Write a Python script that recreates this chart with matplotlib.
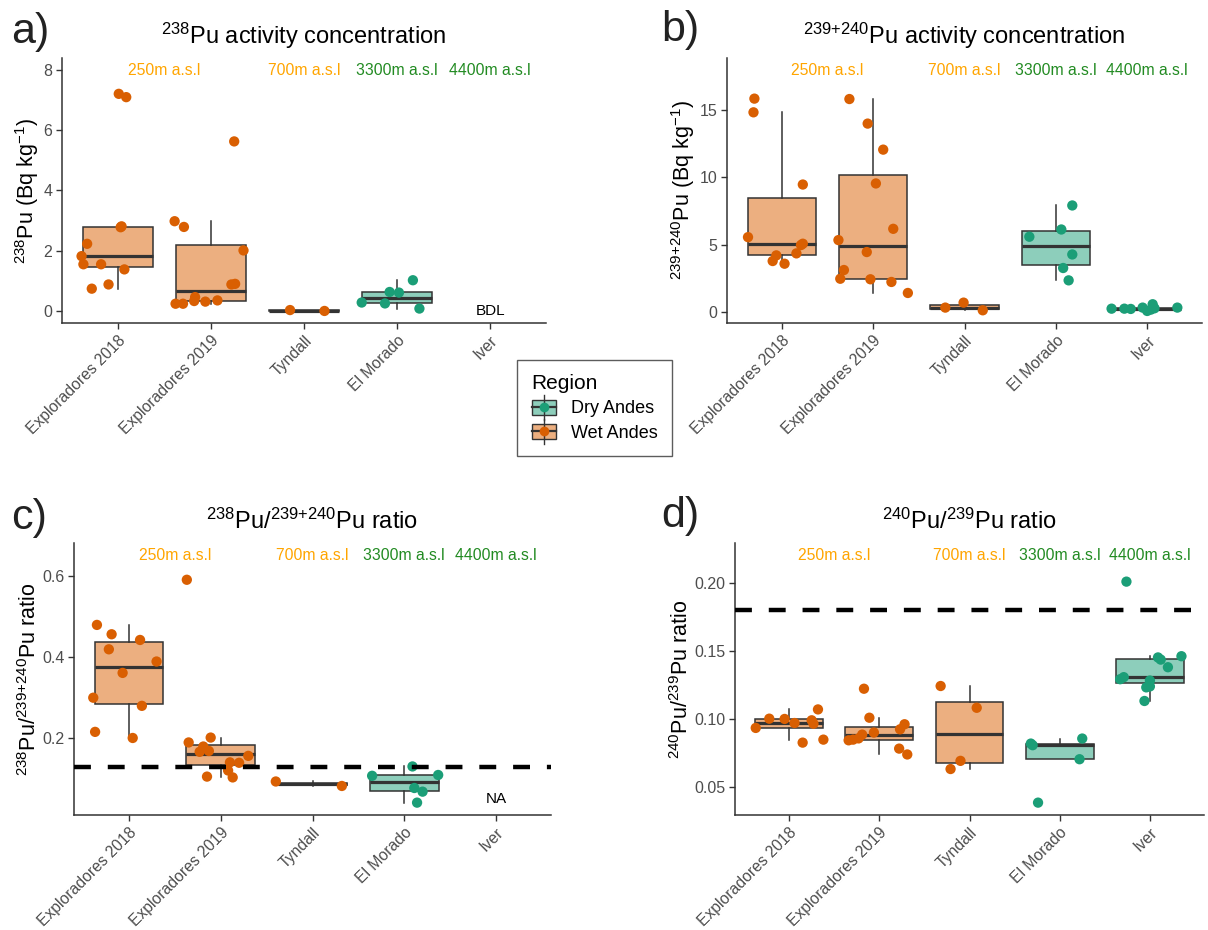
import matplotlib
matplotlib.use("Agg")
import matplotlib.pyplot as plt
from matplotlib.legend_handler import HandlerBase
from matplotlib.patches import Rectangle
from matplotlib.lines import Line2D
import numpy as np

plt.rcParams['font.family'] = ['Liberation Sans', 'DejaVu Sans']
plt.rcParams['mathtext.fontset'] = 'custom'
plt.rcParams['mathtext.rm'] = 'Liberation Sans'
plt.rcParams['mathtext.it'] = 'Liberation Sans:italic'
plt.rcParams['mathtext.bf'] = 'Liberation Sans:bold'

# ---------------- data ----------------
categories = ["Exploradores 2018", "Exploradores 2019", "Tyndall", "El Morado", "Iver"]
regions = ["Wet Andes", "Wet Andes", "Wet Andes", "Dry Andes", "Dry Andes"]

# a) 238Pu activity (Bq/kg)
pu238 = [
    [7.21, 7.10, 2.81, 2.78, 2.23, 1.82, 1.55, 1.55, 1.38, 0.88, 0.74],
    [2.98, 2.79, 5.63, 2.01, 0.88, 0.90, 0.24, 0.24, 0.33, 0.46, 0.31, 0.35],
    [0.03, 0.00],
    [0.28, 0.25, 0.63, 0.61, 1.02, 0.08],
    [],
]
pu238_jit = [
    [0.01, 0.09, 0.04, 0.03, -0.33, -0.39, -0.37, -0.18, 0.07, -0.10, -0.28],
    [-0.39, -0.29, 0.25, 0.35, 0.22, 0.26, -0.38, -0.30, -0.18, -0.17, -0.06, 0.07],
    [-0.15, 0.22],
    [-0.38, -0.13, -0.08, 0.02, 0.17, 0.24],
    [],
]

# b) 239+240Pu activity (Bq/kg)
pu239240 = [
    [15.87, 14.85, 9.47, 5.55, 5.06, 4.96, 4.34, 4.19, 3.77, 3.57],
    [15.84, 14.01, 12.07, 9.55, 6.17, 5.33, 4.44, 3.10, 2.45, 2.41, 2.21, 1.39],
    [0.30, 0.67, 0.10],
    [5.58, 6.12, 7.91, 4.26, 3.25, 2.33],
    [0.22, 0.22, 0.20, 0.30, 0.05, 0.55, 0.25, 0.30, 0.15],
]
pu239240_jit = [
    [-0.30, -0.31, 0.23, -0.37, 0.23, 0.21, 0.16, -0.06, -0.10, 0.03],
    [-0.26, -0.06, 0.11, 0.03, 0.22, -0.38, -0.07, -0.32, -0.36, -0.03, 0.20, 0.38],
    [-0.21, -0.01, 0.20],
    [-0.29, 0.06, 0.18, 0.18, 0.08, 0.14],
    [-0.39, -0.25, -0.18, -0.05, 0.00, 0.06, 0.08, 0.33, 0.04],
]

# c) 238Pu/239+240Pu ratio
ratio238 = [
    [0.479, 0.456, 0.419, 0.442, 0.389, 0.361, 0.300, 0.280, 0.216, 0.201],
    [0.590, 0.190, 0.202, 0.180, 0.167, 0.169, 0.157, 0.141, 0.140, 0.121, 0.106, 0.104],
    [0.094, 0.083],
    [0.108, 0.131, 0.110, 0.078, 0.069, 0.042],
    [],
]
ratio238_jit = [
    [-0.35, -0.19, -0.22, 0.12, 0.30, -0.07, -0.39, 0.14, -0.37, 0.04],
    [-0.37, -0.35, -0.11, -0.19, -0.23, -0.13, 0.30, 0.10, 0.20, 0.08, -0.15, 0.13],
    [-0.40, 0.32],
    [-0.35, 0.09, 0.37, 0.11, 0.20, 0.14],
    [],
]

# d) 240Pu/239Pu atom ratio
ratio240 = [
    [0.0932, 0.1000, 0.0998, 0.0968, 0.0988, 0.0963, 0.1068, 0.0824, 0.0846],
    [0.122, 0.1007, 0.0898, 0.0841, 0.0846, 0.0855, 0.0883, 0.0922, 0.0959, 0.0780, 0.0737],
    [0.124, 0.108, 0.069, 0.063],
    [0.0817, 0.0854, 0.0702, 0.0383, 0.0805],
    [0.2007, 0.1305, 0.129, 0.145, 0.1434, 0.1378, 0.1459, 0.128, 0.123, 0.1237, 0.113],
]
ratio240_jit = [
    [-0.37, -0.22, -0.05, 0.06, 0.25, 0.27, 0.32, 0.15, 0.38],
    [-0.17, -0.11, -0.06, -0.34, -0.29, -0.23, -0.19, 0.23, 0.28, 0.22, 0.31],
    [-0.32, 0.08, -0.10, -0.21],
    [-0.32, 0.25, 0.22, -0.24, -0.30],
    [-0.26, -0.29, -0.33, 0.09, 0.12, 0.20, 0.35, 0.00, -0.04, 0.00, -0.06],
]

elev_labels = ["250m a.s.l", "700m a.s.l", "3300m a.s.l", "4400m a.s.l"]
elev_pos = [1.5, 3, 4, 5]
elev_colors = ["#FFA500", "#FFA500", "#228B22", "#228B22"]

ref_238 = 0.13     # dashed reference line, panel c
ref_240 = 0.18     # dashed reference line, panel d

# ---------------- styles ----------------
pt_col = {"Wet Andes": "#D95F02", "Dry Andes": "#1B9E77"}
box_col = {"Wet Andes": "#ECAF80", "Dry Andes": "#8DCEBB"}
edge = "#333333"
tick_gray = "#4D4D4D"

W, H = 1208, 930
fig = plt.figure(figsize=(W / 100, H / 100), dpi=100)


def rect(l, r, t, b):
    return [l / W, 1 - b / H, (r - l) / W, (b - t) / H]


def panel(pos, data, jit, ann_y, title, ylabel, letter, letter_xy, ylab_x,
          yticks, yfmt, extra=None, hline=None):
    ax = fig.add_axes(rect(*pos))
    xs = np.arange(1, len(categories) + 1)
    for i, (vals, offs) in enumerate(zip(data, jit)):
        if len(vals) == 0:
            continue
        reg = regions[i]
        ax.boxplot([vals], positions=[xs[i]], widths=0.75, patch_artist=True,
                   showfliers=False, showcaps=False, whis=1.5,
                   boxprops=dict(facecolor=box_col[reg], edgecolor=edge, linewidth=1.1),
                   whiskerprops=dict(color=edge, linewidth=1.1),
                   medianprops=dict(color=edge, linewidth=2.3, solid_capstyle='butt'),
                   zorder=2)
        ax.scatter(xs[i] + np.array(offs), vals, s=55, color=pt_col[reg],
                   edgecolors='none', zorder=3)
    if hline is not None:
        ax.axhline(hline, color='black', lw=3.2, ls=(0, (3.8, 3.8)), zorder=4)
    for lab, xp, c in zip(elev_labels, elev_pos, elev_colors):
        ax.text(xp, ann_y, lab, ha='center', va='center', color=c, fontsize=11.3)
    if extra is not None:
        ax.text(extra[0], extra[1], extra[2], ha='center', va='center',
                color='black', fontsize=11)
    # limits (ggplot-like expansion)
    allv = [v for g in data for v in g] + [ann_y]
    lo, hi = min(allv), max(allv)
    pad = 0.05 * (hi - lo)
    ax.set_ylim(lo - pad, hi + pad)
    ax.set_xlim(0.4, len(categories) + 0.6)
    ax.set_xticks(xs)
    ax.set_xticklabels(categories, rotation=45, ha='right', va='top',
                       rotation_mode='anchor', fontsize=11.3, color=tick_gray)
    ax.set_yticks(yticks)
    ax.set_yticklabels([yfmt.format(v) for v in yticks], fontsize=11.5, color=tick_gray)
    for s in ['top', 'right']:
        ax.spines[s].set_visible(False)
    for s in ['left', 'bottom']:
        ax.spines[s].set_color('#333333')
        ax.spines[s].set_linewidth(1.1)
    ax.tick_params(axis='both', colors='#333333', length=4, width=1.0, pad=3)
    ax.tick_params(axis='both', labelcolor=tick_gray)
    ax.set_ylabel(ylabel, fontsize=15.5, color='black')
    l, r, t, b = pos
    ax.yaxis.set_label_coords((ylab_x - l) / (r - l), 0.5)
    ax.set_title(title, fontsize=17, pad=10)
    fig.text(letter_xy[0] / W, 1 - letter_xy[1] / H, letter, fontsize=31,
             ha='left', va='center', color='#222222')
    return ax


sup = lambda s: r'$\mathregular{^{' + s + r'}}$'
s2 = '239{+}240'

panel((62, 546, 58, 323), pu238, pu238_jit, 8,
      sup('238') + 'Pu activity concentration',
      sup('238') + 'Pu (Bq kg' + sup('-1') + ')',
      'a)', (11, 32), 41, [0, 2, 4, 6, 8], '{:g}', extra=(5, 0, 'BDL'))

panel((727, 1202, 58, 323), pu239240, pu239240_jit, 18,
      sup(s2) + 'Pu activity concentration',
      sup(s2) + 'Pu (Bq kg' + sup('-1') + ')',
      'b)', (661, 30), 697, [0, 5, 10, 15], '{:g}')

panel((74, 551, 543, 815), ratio238, ratio238_jit, 0.65,
      sup('238') + 'Pu/' + sup(s2) + 'Pu ratio',
      sup('238') + 'Pu/' + sup(s2) + 'Pu ratio',
      'c)', (11, 518), 41, [0.2, 0.4, 0.6], '{:.1f}', extra=(5, 0.05, 'NA'),
      hline=ref_238)

panel((735, 1204, 543, 815), ratio240, ratio240_jit, 0.22,
      sup('240') + 'Pu/' + sup('239') + 'Pu ratio',
      sup('240') + 'Pu/' + sup('239') + 'Pu ratio',
      'd)', (661, 516), 693, [0.05, 0.10, 0.15, 0.20], '{:.2f}',
      hline=ref_240)


# ---------------- legend ----------------
class BoxHandler(HandlerBase):
    def __init__(self, reg):
        super().__init__()
        self.reg = reg

    def create_artists(self, legend, orig_handle, xdescent, ydescent, width,
                       height, fontsize, trans):
        cx = width / 2 - xdescent
        cy = height / 2 - ydescent
        bw = width * 0.95
        bh = height * 1.0
        rct = Rectangle((cx - bw / 2, cy - bh / 2), bw, bh, facecolor=box_col[self.reg],
                        edgecolor=edge, lw=1.0, transform=trans)
        vl = Line2D([cx, cx], [cy - bh * 0.85, cy + bh * 0.85], color=edge, lw=1.0,
                    transform=trans)
        hl = Line2D([cx - bw / 2, cx + bw / 2], [cy, cy], color=edge, lw=1.6,
                    transform=trans)
        dot = Line2D([cx], [cy], marker='o', ms=7, color=pt_col[self.reg],
                     markeredgewidth=0, transform=trans)
        return [rct, vl, hl, dot]


h_dry = Rectangle((0, 0), 1, 1)
h_wet = Rectangle((0, 0), 1, 1)
leg = fig.legend([h_dry, h_wet], ["Dry Andes", "Wet Andes"], title="Region",
                 loc='upper left', bbox_to_anchor=(517 / W, 1 - 360 / H),
                 borderaxespad=0,
                 handler_map={h_dry: BoxHandler("Dry Andes"), h_wet: BoxHandler("Wet Andes")},
                 fontsize=13, title_fontsize=15, frameon=True, fancybox=False,
                 edgecolor='#333333', borderpad=0.8, handlelength=1.4,
                 handleheight=0.9, handletextpad=0.8, labelspacing=0.35,
                 alignment='left')
leg.get_frame().set_linewidth(1.0)

fig.savefig("out.png", dpi=100)
